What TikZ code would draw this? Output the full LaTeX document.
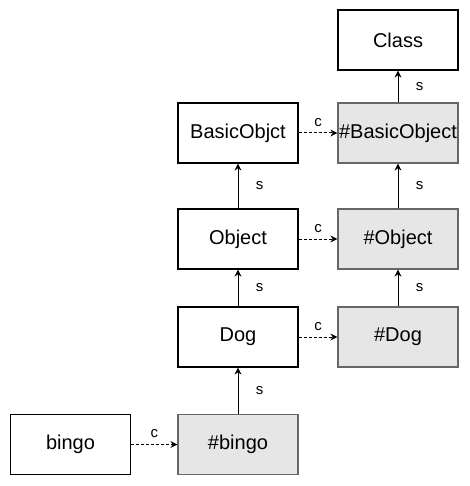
\documentclass[tikz,border=0pt]{standalone}
\usepackage{fontspec}
\setmainfont{Liberation Sans}
\usetikzlibrary{arrows.meta}

\newcommand{\BoxText}[1]{{\fontsize{20}{24}\selectfont #1}}
\newcommand{\EdgeText}[1]{{\fontsize{15}{17}\selectfont #1}}

\tikzset{
  plainbox/.style={draw=black, line width=1.2pt, minimum width=120pt, minimum height=60pt, inner sep=0pt, fill=white},
  metabox/.style={plainbox, draw=metaborder, fill=metafill},
  superarrow/.style={line width=1pt, -{Stealth[length=7pt,width=7pt]}},
  classarrow/.style={line width=1pt, dashed, dash pattern=on 3pt off 2pt, -{Stealth[length=7pt,width=7pt]}},
}
\definecolor{metafill}{HTML}{E6E6E6}
\definecolor{metaborder}{HTML}{666666}

\begin{document}
\begin{tikzpicture}[x=1pt,y=-1pt]
    \useasboundingbox (0,0) rectangle (469,486);
    \node[plainbox] (bingo)    at (70.5,444.5) {\BoxText{bingo}};
    \node[metabox]  (mbingo)   at (238,444.5)  {\BoxText{\#bingo}};
    \node[plainbox] (dog)      at (238,337)    {\BoxText{Dog}};
    \node[metabox]  (mdog)     at (398,337)    {\BoxText{\#Dog}};
    \node[plainbox] (object)   at (238,239)    {\BoxText{Object}};
    \node[metabox]  (mobject)  at (398,239)    {\BoxText{\#Object}};
    \node[plainbox] (basic)    at (238,133)    {\BoxText{BasicObjct}};
    \node[metabox]  (mbasic)   at (398,133)    {\BoxText{\#BasicObject}};
    \node[plainbox] (class)    at (398,40)     {\BoxText{Class}};
    %
    \draw[classarrow] (bingo) -- node[above=3pt]{\EdgeText{c}} (mbingo);
    \draw[classarrow] (dog) -- node[above=3pt]{\EdgeText{c}} (mdog);
    \draw[classarrow] (object) -- node[above=3pt]{\EdgeText{c}} (mobject);
    \draw[classarrow] (basic) -- node[above=3pt]{\EdgeText{c}} (mbasic);
    %
    \draw[superarrow] (mbingo) -- node[right=14pt]{\EdgeText{s}} (dog);
    \draw[superarrow] (dog) -- node[right=14pt]{\EdgeText{s}} (object);
    \draw[superarrow] (object) -- node[right=14pt]{\EdgeText{s}} (basic);
    \draw[superarrow] (mdog) -- node[right=14pt]{\EdgeText{s}} (mobject);
    \draw[superarrow] (mobject) -- node[right=14pt]{\EdgeText{s}} (mbasic);
    \draw[superarrow] (mbasic) -- node[right=14pt]{\EdgeText{s}} (class);
\end{tikzpicture}
\end{document}
